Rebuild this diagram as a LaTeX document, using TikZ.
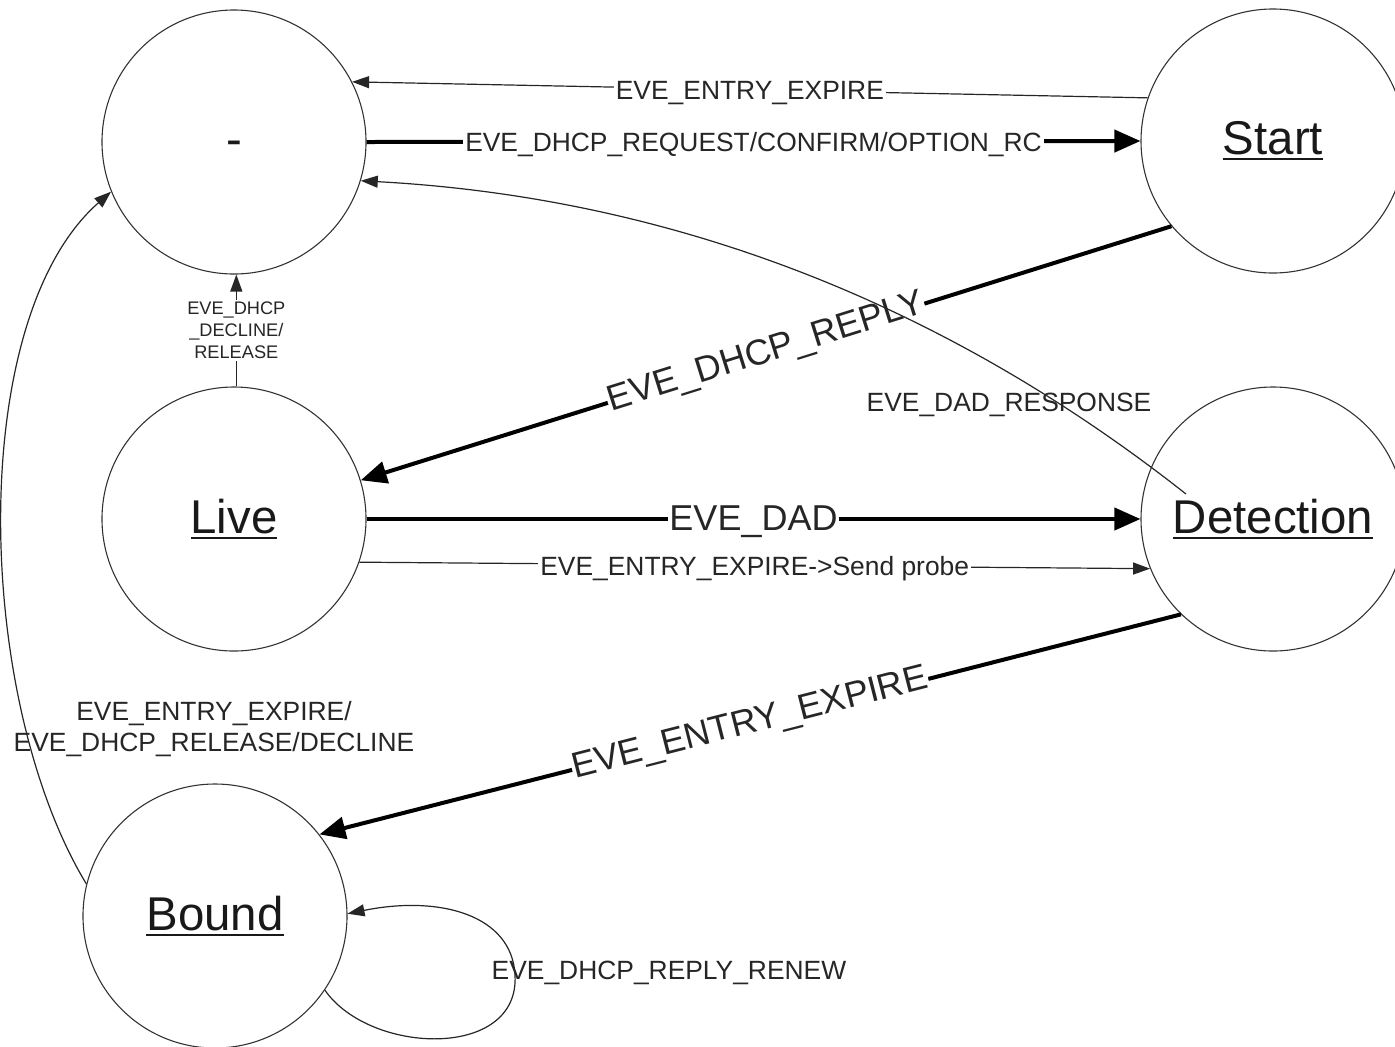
\documentclass[tikz,border=0pt]{standalone}
\usepackage{fontspec}
\setmainfont{Liberation Sans}
\usetikzlibrary{arrows.meta}
\newcommand{\stul}[1]{\leavevmode\vtop{\hbox{#1}\kern1.6pt\hrule height 0.9pt}}
\begin{document}
\begin{tikzpicture}[x=0.5pt,y=-0.5pt,
  state/.style={circle, draw=black!80, line width=0.55pt, minimum size=132pt, inner sep=0pt,
    font=\fontsize{23.7}{28}\selectfont, text=black!90},
  thinedge/.style={draw=black!85, line width=0.6pt, -{Triangle[length=8.5pt,width=6pt]}},
  thickedge/.style={draw=black, line width=2pt, -{Triangle[length=13pt,width=11pt]}},
  lab/.style={font=\fontsize{13.2}{15.5}\selectfont, text=black!85, inner sep=1pt, yshift=-1.75pt},
  biglab/.style={font=\fontsize{18}{20}\selectfont, text=black!85, inner sep=0.5pt},
  smalllab/.style={font=\fontsize{9.1}{11}\selectfont, text=black!85, inner sep=1pt, align=center},
  fl/.style={fill=white}]
\useasboundingbox (0,0) rectangle (1395,1046);

% states
\node[state] (dash) at (234,142) {\raisebox{-6.5pt}[0pt][0pt]{-}};
\node[state] (start) at (1273,141) {\stul{Start}};
\node[state] (live) at (234,519) {\stul{Live}};
\node[state] (detection) at (1273,519) {\stul{Detection}};
\node[state] (bound) at (215,916) {\stul{Bound}};

% top edges
\draw[thinedge] (start.161.6) -- node[lab,fl]{EVE\_ENTRY\_EXPIRE} (dash.27);
\draw[thickedge] (dash.0) -- node[lab,fl]{EVE\_DHCP\_REQUEST/CONFIRM/OPTION\_RC} (start.180);

% Start -> Live
\draw[thickedge] (start.220) -- node[biglab,fl,sloped]{EVE\_DHCP\_REPLY} (live.17.8);

% Live -> Detection
\draw[thickedge] (live.0) -- node[biglab,fl,yshift=-1.5pt]{EVE\_DAD} (detection.180);
\draw[thinedge] (live.-19.4) -- node[lab,fl]{EVE\_ENTRY\_EXPIRE->Send probe} (detection.202.9);

% Detection -> Bound
\draw[thickedge] (detection.226.2) -- node[biglab,fl,sloped]{EVE\_ENTRY\_EXPIRE} (bound.38.1);

% Live -> dash
\draw[thinedge] (live.89) -- node[smalllab,fl]{EVE\_DHCP\\\_DECLINE/\\RELEASE} (dash.271);

% Detection -> dash (curve)
\coordinate (dc) at (1186,494);
\draw[thinedge] (dc) .. controls (936,297) and (662,197) .. (dash.-17.4);
\node[lab] (lrsp) at (1009,401) {EVE\_DAD\_RESPONSE};

% Bound -> dash (curve)
\draw[thinedge] (bound.166.6) .. controls (-25,700) and (-35,320) .. (dash.202);
\node[lab,align=center] (lexp) at (214,726) {EVE\_ENTRY\_EXPIRE/\\EVE\_DHCP\_RELEASE/DECLINE};

% Bound self loop
\coordinate (lr) at (515,975);
\draw[thinedge] (bound.-34.7) .. controls (370,1055) and (520,1060) .. (lr)
   .. controls (512,915) and (440,895) .. (bound.1);
\node[lab] (lrenew) at (669,969) {EVE\_DHCP\_REPLY\_RENEW};
\end{tikzpicture}
\end{document}
